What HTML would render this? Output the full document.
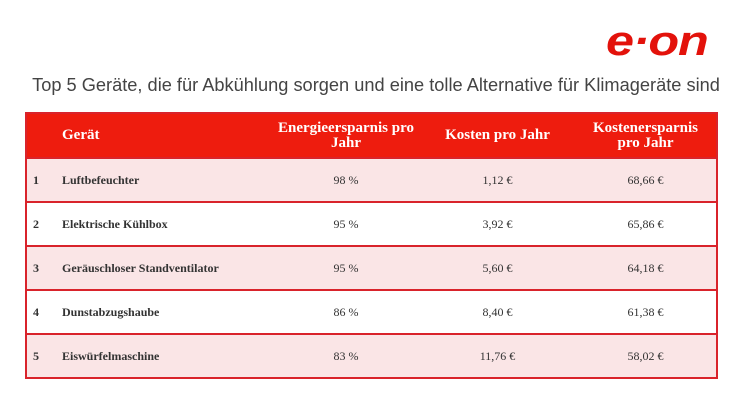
<!DOCTYPE html>
<html><head><meta charset="utf-8"><style>
body{margin:0;width:752px;height:412px;background:#fff;position:relative;overflow:hidden;font-family:"Liberation Serif",serif}
.logo{position:absolute;left:606px;top:17px;font-family:"Liberation Sans",sans-serif;font-weight:bold;font-style:italic;font-size:42px;color:#e3120b;letter-spacing:-1px;transform:scaleX(1.2);transform-origin:left}
.title{position:absolute;left:0;width:752px;top:74px;text-align:center;font-family:"Liberation Sans",sans-serif;font-size:18.5px;color:#444;transform:scaleX(.985)}
table{position:absolute;left:25px;top:112px;width:693px;border-collapse:collapse;border:2px solid #d9232b;table-layout:fixed}
th{background:#ee1c0e;color:#fff;font-size:15px;font-weight:bold;height:43px;line-height:15px;padding:0;border-bottom:2px solid #d9232b}
td{height:44px;font-size:12px;color:#333;padding:0;border-top:2px solid #d9232b;box-sizing:border-box}
tr.p td{background:#fae5e6}
.n{text-align:left;padding-left:6px;font-weight:bold}
.g{text-align:left;font-weight:bold}
.c{text-align:center}
</style></head><body>
<div class="logo">e·on</div>
<div class="title">Top 5 Geräte, die für Abkühlung sorgen und eine tolle Alternative für Klimageräte sind</div>
<table>
<colgroup><col style="width:36px"><col style="width:210px"><col style="width:148px"><col style="width:155px"><col></colgroup>
<tr><th></th><th style="text-align:left">Gerät</th><th>Energieersparnis pro<br>Jahr</th><th>Kosten pro Jahr</th><th>Kostenersparnis<br>pro Jahr</th></tr>
<tr class="p"><td class="n">1</td><td class="g">Luftbefeuchter</td><td class="c">98 %</td><td class="c">1,12 €</td><td class="c">68,66 €</td></tr>
<tr><td class="n">2</td><td class="g">Elektrische Kühlbox</td><td class="c">95 %</td><td class="c">3,92 €</td><td class="c">65,86 €</td></tr>
<tr class="p"><td class="n">3</td><td class="g">Geräuschloser Standventilator</td><td class="c">95 %</td><td class="c">5,60 €</td><td class="c">64,18 €</td></tr>
<tr><td class="n">4</td><td class="g">Dunstabzugshaube</td><td class="c">86 %</td><td class="c">8,40 €</td><td class="c">61,38 €</td></tr>
<tr class="p"><td class="n">5</td><td class="g">Eiswürfelmaschine</td><td class="c">83 %</td><td class="c">11,76 €</td><td class="c">58,02 €</td></tr>
</table>
</body></html>
